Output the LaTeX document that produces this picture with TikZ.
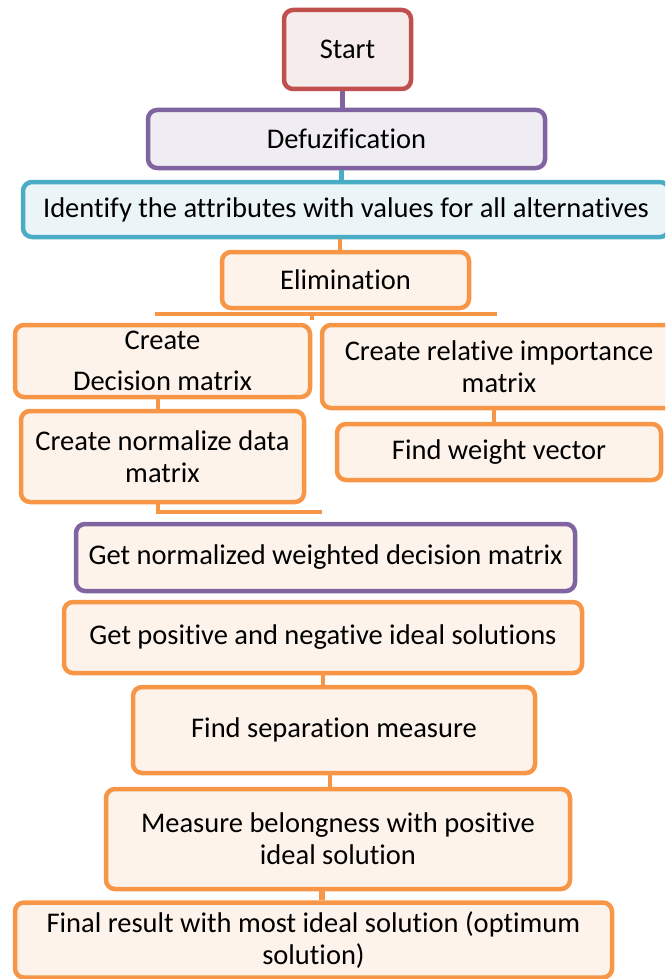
\documentclass[tikz,border=0pt]{standalone}
\usepackage{fontspec}
\setmainfont{Carlito}[Ligatures={NoCommon}]
\definecolor{cred}{HTML}{C0504D}
\definecolor{cpurple}{HTML}{8064A2}
\definecolor{cteal}{HTML}{4BACC6}
\definecolor{corange}{HTML}{F79646}
\definecolor{fred}{HTML}{F7ECEC}
\definecolor{fpurple}{HTML}{EFEDF3}
\definecolor{fteal}{HTML}{EBF5F8}
\definecolor{forange}{HTML}{FDF3EA}
\tikzset{
  box/.style={draw, line width=4.5pt, rounded corners=9pt, align=center, inner sep=0pt,
    font=\fontsize{28.5}{32}\selectfont},
  obox/.style={box, draw=corange, fill=forange},
  conn/.style={line width=4.5pt},
}
\begin{document}
\begin{tikzpicture}[x=1pt,y=-1pt]
\useasboundingbox (0,0) rectangle (665,979);
\clip (0,0) rectangle (665,979);
\node[box, draw=cred, fill=fred, minimum width=127pt, minimum height=79pt] (start) at (347.5,49.5) {Start};
\node[box, draw=cpurple, fill=fpurple, minimum width=397pt, minimum height=58pt] (defuz) at (346.5,139) {Defuzification};
\node[box, draw=cteal, fill=fteal, minimum width=646pt, minimum height=55pt] (ident) at (346,209.5) {Identify the attributes with values for all alternatives};
\node[obox, minimum width=247pt, minimum height=56pt] (elim) at (345.5,280) {Elimination};
\node[obox, minimum width=295pt, minimum height=72pt] (create) at (162.5,361) {Create\\[9pt]Decision matrix};
\node[obox, minimum width=354pt, minimum height=83pt] (relimp) at (499,366.5) {Create relative importance\\matrix};
\node[obox, minimum width=283pt, minimum height=91pt] (norm) at (162.5,456.5) {Create normalize data\\matrix};
\node[obox, minimum width=324pt, minimum height=56pt] (weight) at (499,452) {Find weight vector};
\node[box, draw=cpurple, fill=forange, minimum width=499pt, minimum height=67pt] (wdm) at (325.5,557.5) {Get normalized weighted decision matrix};
\node[obox, minimum width=518pt, minimum height=71pt] (pos) at (323,637.5) {Get positive and negative ideal solutions};
\node[obox, minimum width=402pt, minimum height=86pt] (sep) at (334,730) {Find separation measure};
\node[obox, minimum width=464pt, minimum height=100pt] (meas) at (338,839) {Measure belongness with positive\\ideal solution};
\node[obox, minimum width=597pt, minimum height=75pt] (final) at (313.5,940) {Final result with most ideal solution (optimum\\solution)};
% connectors
\draw[conn, cpurple] ([xshift=-5pt]start.south) -- ([xshift=-5pt]start.south |- defuz.north);
\draw[conn, cteal] ([xshift=-5pt]defuz.south) -- ([xshift=-5pt]defuz.south |- ident.north);
\draw[conn, corange] ([xshift=-6pt]ident.south) -- ([xshift=-6pt]ident.south |- elim.north);
\coordinate (bl) at (155,314);
\coordinate (br) at (497,314);
\coordinate (bm) at (312,314);
\coordinate (bmd) at (312,320);
\draw[conn, corange] (bl) -- (br);
\draw[conn, corange] (bm) -- (bmd);
\draw[conn, corange] ([xshift=-4.5pt]create.south) -- ([xshift=-4.5pt]create.south |- norm.north);
\draw[conn, corange] ([xshift=-5pt]relimp.south) -- ([xshift=-5pt]relimp.south |- weight.north);
\coordinate (nbend) at (322,512);
\draw[conn, corange, line cap=butt] ([xshift=-4.5pt]norm.south) |- (nbend);
\draw[conn, corange] (pos.south) -- (pos.south |- sep.north);
\draw[conn, corange] ([xshift=-4pt]sep.south) -- ([xshift=-4pt]sep.south |- meas.north);
\draw[conn, corange, line width=6pt] ([xshift=-16pt]meas.south) -- ([xshift=-16pt]meas.south |- final.north);
\end{tikzpicture}
\end{document}
